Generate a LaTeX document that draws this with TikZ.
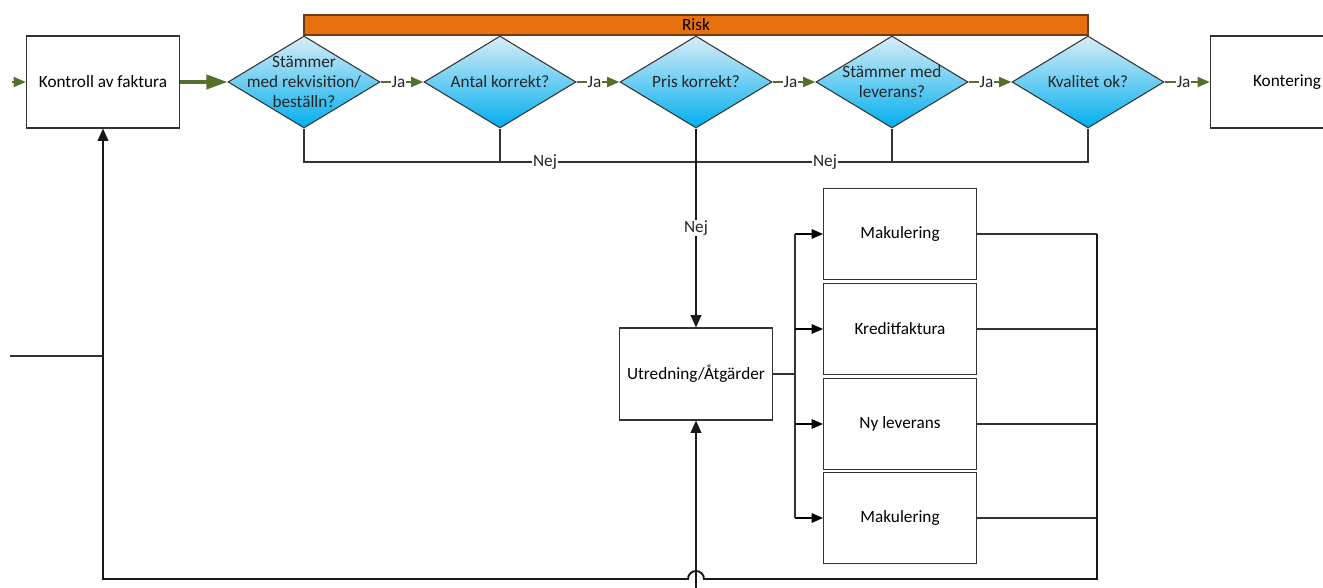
\documentclass[tikz,border=0pt]{standalone}
\usepackage{fontspec}
\setmainfont{Carlito}
\usepackage{tikz}
\usetikzlibrary{shapes.geometric,arrows.meta,calc}
\definecolor{jagreen}{RGB}{84,112,44}
\definecolor{riskorange}{RGB}{232,113,14}
\definecolor{riskedge}{RGB}{105,62,25}
\definecolor{qtop}{RGB}{216,237,246}
\definecolor{qbottom}{RGB}{0,174,239}

\begin{document}
\begin{tikzpicture}[x=0.02cm,y=-0.02cm,font=\fontsize{9.8}{11.3}\selectfont,
  box/.style={draw=black!80,line width=0.6pt,minimum width=3.06cm,minimum height=1.84cm,inner sep=2pt},
  question/.style={diamond,draw=black!80,line width=0.6pt,top color=qtop,bottom color=qbottom,
    minimum width=3.04cm,minimum height=1.84cm,inner sep=0pt,
    label={[align=center,text=black!85]center:#1}},
  riskbar/.style={draw=riskedge,fill=riskorange,line width=0.8pt,minimum width=15.68cm,minimum height=0.4cm,inner sep=0pt},
  ja/.style={draw=jagreen,line width=1.4pt,-{Triangle[length=7pt,width=5.5pt]}},
  bigja/.style={draw=jagreen,line width=2.2pt,-{Triangle[length=12pt,width=8pt]}},
  jalabel/.style={fill=white,text=black!85,inner sep=0.5pt,pos=0.42},
  nejlabel/.style={fill=white,text=black!85,inner sep=0.5pt},
  line/.style={draw=black!80,line width=0.6pt},
  arr/.style={draw=black,line width=0.6pt,-{Triangle[length=6.5pt,width=5.5pt]}},
  thickarr/.style={draw=black!90,line width=1.1pt,-{Triangle[length=7pt,width=6pt]}}]

\useasboundingbox (0,0) rectangle (1323,588);

\node[riskbar] (risk) at (696,25) {Risk};

\node[box] (kf) at (103,82) {Kontroll av faktura};
\node[question={Stämmer\\med rekvisition/\\beställn?}] (d1) at (304,82) {};
\node[question={Antal korrekt?}] (d2) at (500,82) {};
\node[question={Pris korrekt?}] (d3) at (696,82) {};
\node[question={Stämmer med\\leverans?}] (d4) at (892,82) {};
\node[question={Kvalitet ok?}] (d5) at (1088,82) {};
\node[box] (kont) at (1287,82) {Kontering};

\node[box] (utr) at (696,374) {Utredning/Åtgärder};
\node[box,minimum height=1.82cm] (mak1) at (900,234) {Makulering};
\node[box,minimum height=1.82cm] (kred) at (900,329) {Kreditfaktura};
\node[box,minimum height=1.82cm] (nylev) at (900,424) {Ny leverans};
\node[box,minimum height=1.82cm] (mak2) at (900,518) {Makulering};

\coordinate (inKF) at (12,82);
\coordinate (inL) at (10,356);
\coordinate (nejEnd) at (1088,162);
\coordinate (split) at (795,374);
\coordinate (ret) at (1097,579);
\coordinate (inU) at (696,600);

\draw[ja] (inKF) -- (kf.west);
\draw[bigja] (kf.east) -- (d1.west);
\draw[ja] (d1.east) -- node[jalabel]{Ja} (d2.west);
\draw[ja] (d2.east) -- node[jalabel]{Ja} (d3.west);
\draw[ja] (d3.east) -- node[jalabel]{Ja} (d4.west);
\draw[ja] (d4.east) -- node[jalabel]{Ja} (d5.west);
\draw[ja] (d5.east) -- node[jalabel]{Ja} (kont.west);

\draw[line] (d1.south) |- (nejEnd) -- (d5.south);
\draw[line] (d2.south) -- (d2.south |- nejEnd);
\draw[line] (d4.south) -- (d4.south |- nejEnd);
\node[nejlabel] (nej1) at (545,162) {Nej};
\node[nejlabel] (nej2) at (825,162) {Nej};
\draw[thickarr] (d3.south) -- node[nejlabel]{Nej} (utr.north);

\draw[line] (utr.east) -- (split);
\draw[line] (split |- mak1.west) -- (split |- mak2.west);
\foreach \b in {mak1,kred,nylev,mak2}
  \draw[arr] (split |- \b.west) -- (\b.west);
\foreach \b in {mak1,kred,nylev,mak2}
  \draw[line] (\b.east) -- (ret |- \b.east);

\draw[thickarr] (inU) -- (utr.south);
\draw[thickarr] (ret |- mak1.east) -- (ret) -- (704,579)
  arc[start angle=0,end angle=180,radius=0.16cm] -- (kf.south |- ret) -- (kf.south);
\draw[line] (inL) -- (kf.south |- inL);
\end{tikzpicture}
\end{document}
